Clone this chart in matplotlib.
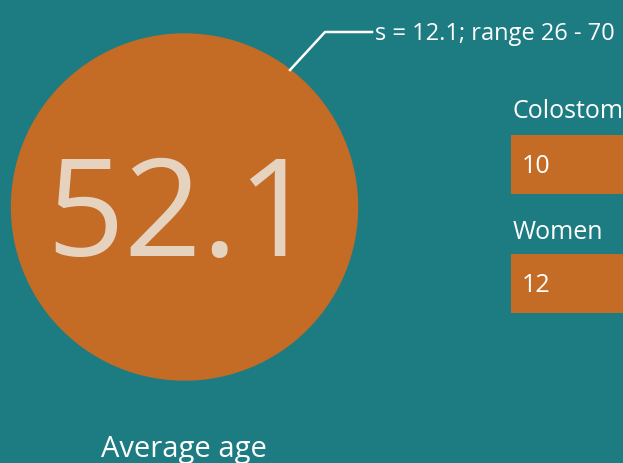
import matplotlib.pyplot as plt
from matplotlib.patches import Circle

# data
mean_age = 52.1
age_sd = 12.1
age_min, age_max = 26, 70
bar_labels = ["Colostomy", "Women"]
bar_values = [10, 12]

teal = "#1d7b82"
orange = "#c46b26"
beige = "#e6d3bf"

plt.rcParams['font.family'] = ['Open Sans', 'DejaVu Sans']

fig = plt.figure(figsize=(6.23, 4.63), dpi=100, facecolor=teal)

# bars on the right (clipped by the figure edge), drawn underneath the main axes
bx = fig.add_axes([511/623, 0, 1 - 511/623, 1])
bx.set_facecolor('none')
bx.axis('off')
bx.set_xlim(0, 9)
bx.set_ylim(463, 0)
bx.set_zorder(0)

ax = fig.add_axes([0, 0, 1, 1])
ax.set_xlim(0, 623)
ax.set_ylim(463, 0)
ax.set_facecolor('none')
ax.axis('off')
ax.set_zorder(1)

# big circle with the mean
ax.add_patch(Circle((184.5, 207), 173, color=orange, zorder=1))
ax.text(181, 204, f"{mean_age}", fontsize=98, color=beige, ha='center', va='center_baseline',
        zorder=2)

# leader line + annotation
ax.plot([290, 325, 372], [70, 32, 32], color='white', lw=1.8, zorder=3)
ax.text(375, 31.5, f"s = {age_sd}; range {age_min} - {age_max}", fontsize=17,
        color='white', ha='left', va='center_baseline')

ax.text(184, 446, "Average age", fontsize=21, color='white', ha='center', va='center_baseline')

centers = [164.5, 283]
label_y = [108, 229.5]
for lab, val, yc, ly in zip(bar_labels, bar_values, centers, label_y):
    bx.barh(yc, val, height=59, left=0, color=orange)
    ax.text(513, ly, lab, fontsize=18, color='white', ha='left', va='center_baseline', zorder=4)
    ax.text(522, yc - 1, str(val), fontsize=18, color='white', ha='left',
            va='center_baseline', zorder=4)

fig.savefig("out.png", dpi=100, facecolor=teal)
